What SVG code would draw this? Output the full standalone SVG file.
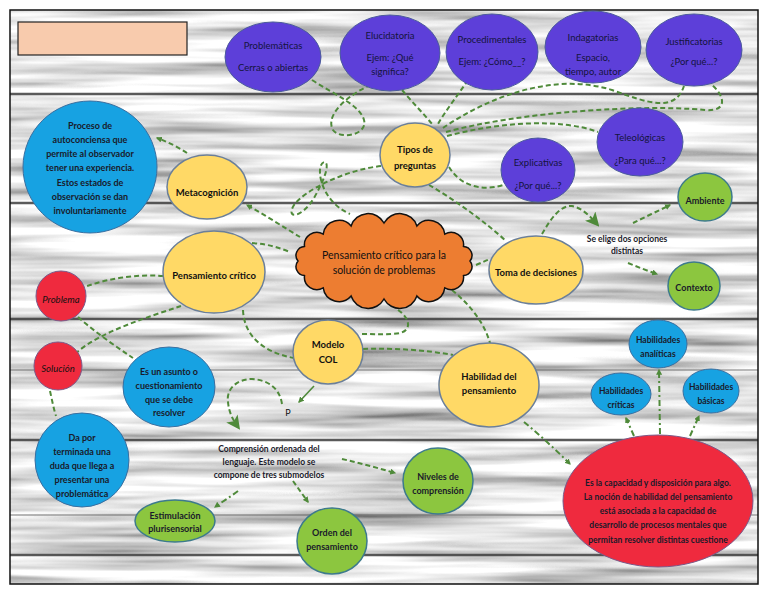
<svg xmlns="http://www.w3.org/2000/svg" width="768" height="594" viewBox="0 0 768 594">
<defs>
<filter id="wood" x="0" y="0" width="100%" height="100%">
<feTurbulence type="fractalNoise" baseFrequency="0.004 0.08" numOctaves="3" seed="7" result="n"/>
<feColorMatrix in="n" type="matrix" values="1.6 0 0 0 -0.02  1.6 0 0 0 -0.02  1.6 0 0 0 -0.02  0 0 0 0 1"/>
</filter>
<marker id="ah" viewBox="0 0 10 10" refX="8" refY="5" markerWidth="6" markerHeight="6" orient="auto-start-reverse" markerUnits="userSpaceOnUse">
<path d="M0,0 L10,5 L0,10 Z" fill="#4f8a3a"/>
</marker>
<marker id="big" viewBox="0 0 12 12" refX="9" refY="6" markerWidth="14" markerHeight="14" orient="auto" markerUnits="userSpaceOnUse">
<path d="M0,0 L12,6 L0,12 L3,6 Z" fill="#4f8a3a"/>
</marker>
<style>
.dash{fill:none;stroke:#4f8a3a;stroke-width:2;stroke-dasharray:5 3}
.dd{fill:none;stroke:#4f8a3a;stroke-width:2;stroke-dasharray:6 3 2 3}
.solid{fill:none;stroke:#4f8a3a;stroke-width:1.6}
.pur{fill:#5d3fd9;stroke:#4b5b9c;stroke-width:1}
.yel{fill:#ffd966;stroke:#6b7f99;stroke-width:1.5}
.blu{fill:#17a2e2;stroke:#3a6fa0;stroke-width:1}
.red{fill:#ef2a3e;stroke:#7a5a8a;stroke-width:1}
.grn{fill:#8cc63f;stroke:#3d7a8c;stroke-width:1.5}
text{font-family:Lato,"Open Sans","Liberation Sans",sans-serif;text-anchor:middle}
.tp{font-size:9.5px;fill:#14143c}
.tb{font-size:9.5px;font-weight:bold;fill:#111}
.tn{font-size:9px;font-weight:bold;fill:#1a1a2a}
.ts{font-size:8.5px;font-weight:bold;fill:#1a1a2a}
</style>
</defs>
<g id="background">
<rect x="10" y="10" width="748" height="574" filter="url(#wood)"/>
<g stroke="#3e3e3e" stroke-width="2.5" opacity="0.85">
<line x1="10" y1="94" x2="758" y2="94"/>
<line x1="10" y1="203" x2="758" y2="203"/>
<line x1="10" y1="319" x2="758" y2="319"/>
<line x1="10" y1="440" x2="758" y2="440"/>
<line x1="10" y1="555" x2="758" y2="555"/>
</g>
<g stroke="#666" stroke-width="1.5" opacity="0.6">
<line x1="10" y1="370" x2="758" y2="370"/>
<line x1="10" y1="515" x2="758" y2="515"/>
</g>
<rect x="10" y="10" width="748" height="574" fill="none" stroke="#111" stroke-width="1.5"/>
</g>
<rect id="title" x="18" y="22" width="169" height="33" fill="#f8cbad" stroke="#222" stroke-width="1.2"/>
<g id="connectors">
<path class="dash" d="M312,80 C335,95 360,105 364,120 C368,135 340,140 333,130 C326,118 340,100 368,86"/>
<path class="dash" d="M402,90 C412,102 424,114 432,124"/>
<path class="dash" d="M468,80 C458,95 446,110 438,124"/>
<path class="dash" d="M443,128 C490,96 555,72 612,90 C650,104 675,112 684,86"/>
<path class="dash" d="M446,132 C520,112 640,104 705,110 C728,112 725,96 712,85"/>
<path class="dash" d="M447,136 C500,122 560,118 598,132"/>
<path class="dash" d="M449,167 C460,185 480,192 503,185"/>
<path class="dash" d="M429,185 C455,200 485,222 505,240"/>
<path class="dash" d="M381,166 C345,170 305,190 294,205 C285,220 302,218 314,198 C324,180 330,165 325,162 C315,162 318,200 350,214"/>
<path class="dash" d="M300,237 C285,228 265,215 247,205" marker-end="url(#ah)"/>
<path class="dash" d="M187,153 C178,147 168,142 157,138" marker-end="url(#ah)"/>
<path class="dash" d="M252,243 C268,244 280,248 290,252"/>
<path class="dash" d="M163,276 C140,274 110,278 87,286"/>
<path class="dash" d="M181,306 C145,318 100,332 76,353"/>
<path class="dash" d="M78,317 C95,332 115,346 133,358"/>
<path class="dash" d="M50,391 C52,400 54,410 56,416"/>
<path class="dash" d="M243,310 C244,335 262,352 294,358"/>
<path class="dash" d="M398,310 C410,318 412,330 400,333 C390,335 375,334 361,334"/>
<path class="dash" d="M363,349 C395,348 425,350 453,355"/>
<path class="dash" d="M452,290 C470,305 484,322 490,343"/>
<path class="dash" d="M476,265 C481,263 485,261 490,259"/>
<path class="dash" d="M542,234 C550,220 560,205 572,206 C582,208 590,216 597,224" marker-end="url(#big)"/>
<path class="dash" d="M633,223 C645,217 658,211 670,205" marker-end="url(#ah)"/>
<path class="dash" d="M628,263 C638,267 648,271 657,274" marker-end="url(#ah)"/>
<path class="solid" d="M314,386 L299,402" marker-end="url(#ah)"/>
<path class="dash" d="M282,404 C280,390 270,380 252,379 C236,379 226,390 228,402 C229,413 233,420 238,427" marker-end="url(#big)"/>
<path class="dd" d="M238,491 C230,497 222,502 215,507" marker-end="url(#ah)"/>
<path class="dash" d="M293,481 C298,488 303,495 308,502" marker-end="url(#ah)"/>
<path class="dash" d="M342,459 C360,463 378,468 395,473" marker-end="url(#ah)"/>
<path class="dd" d="M524,422 C540,435 556,450 570,464" marker-end="url(#ah)"/>
<path class="dd" d="M660,434 L659,370" marker-end="url(#ah)"/>
<path class="dd" d="M634,436 L626,418" marker-end="url(#ah)"/>
<path class="dd" d="M690,436 L699,416" marker-end="url(#ah)"/>
</g>
<g id="n-problematicas"><ellipse class="pur" cx="273" cy="57" rx="48" ry="35"/><text class="tp" x="273" y="49">Problemáticas</text><text class="tp" x="273" y="71">Cerras o abiertas</text></g>
<g id="n-elucidatoria"><ellipse class="pur" cx="390" cy="53" rx="50" ry="38"/><text class="tp" x="390" y="39">Elucidatoria</text><text class="tp" x="390" y="61">Ejem: ¿Qué</text><text class="tp" x="390" y="75">significa?</text></g>
<g id="n-procedimentales"><ellipse class="pur" cx="492" cy="52" rx="46" ry="38"/><text class="tp" x="492" y="43">Procedimentales</text><text class="tp" x="492" y="65">Ejem: ¿Cómo__?</text></g>
<g id="n-indagatorias"><ellipse class="pur" cx="593" cy="47" rx="48" ry="36"/><text class="tp" x="593" y="41">Indagatorias</text><text class="tp" x="593" y="61">Espacio,</text><text class="tp" x="593" y="75">tiempo, autor</text></g>
<g id="n-justificatorias"><ellipse class="pur" cx="694" cy="50" rx="48" ry="36"/><text class="tp" x="694" y="45">Justificatorias</text><text class="tp" x="694" y="65">¿Por qué...?</text></g>
<g id="n-teleologicas"><ellipse class="pur" cx="640" cy="142" rx="43" ry="34"/><text class="tp" x="640" y="141">Teleológicas</text><text class="tp" x="640" y="164">¿Para qué...?</text></g>
<g id="n-explicativas"><ellipse class="pur" cx="538" cy="170" rx="37" ry="32"/><text class="tp" x="538" y="166">Explicativas</text><text class="tp" x="538" y="189">¿Por qué...?</text></g>
<g id="n-tipos"><ellipse class="yel" cx="415" cy="155" rx="35" ry="32"/><text class="tb" x="415" y="153">Tipos de</text><text class="tb" x="415" y="169">preguntas</text></g>
<g id="n-central"><path d="M470,261 A9,9 0 0 1 463.5,275.6 A12.5,12.5 0 0 1 444.8,287.9 A16,16 0 0 1 416.9,296.1 A18,18 0 0 1 384,299 A18,18 0 0 1 351.1,296.1 A16,16 0 0 1 323.2,287.9 A12.5,12.5 0 0 1 304.5,275.6 A9,9 0 0 1 298,261 A9,9 0 0 1 304.5,246.4 A12.5,12.5 0 0 1 323.2,234.1 A16,16 0 0 1 351.1,225.9 A18,18 0 0 1 384,223 A18,18 0 0 1 416.9,225.9 A16,16 0 0 1 444.8,234.1 A12.5,12.5 0 0 1 463.5,246.4 A9,9 0 0 1 470,261 Z" fill="#ed7d31" stroke="#111" stroke-width="1.5"/><text x="384" y="259" style="font-size:10.5px;fill:#111">Pensamiento crítico para la</text><text x="384" y="274" style="font-size:10.5px;fill:#111">solución de problemas</text></g>
<g id="n-metacognicion"><ellipse class="yel" cx="207" cy="187" rx="40" ry="32"/><text class="tb" x="207" y="196">Metacognición</text></g>
<g id="n-proceso"><ellipse class="blu" cx="90" cy="167" rx="67" ry="66"/><text class="tn" x="90" y="129">Proceso de</text><text class="tn" x="90" y="143">autoconciensa que</text><text class="tn" x="90" y="157">permite al observador</text><text class="tn" x="90" y="171">tener una experiencia.</text><text class="tn" x="90" y="186">Estos estados de</text><text class="tn" x="90" y="200">observación se dan</text><text class="tn" x="90" y="214">involuntariamente</text></g>
<g id="n-pensamiento"><ellipse class="yel" cx="214" cy="272" rx="51" ry="41"/><text class="tb" x="214" y="279">Pensamiento crítico</text></g>
<g id="n-problema"><ellipse class="red" cx="61" cy="296" rx="25" ry="25"/><text x="61" y="303" style="font-size:9.5px;font-style:italic;fill:#111">Problema</text></g>
<g id="n-solucion"><ellipse class="red" cx="58" cy="366" rx="24" ry="24"/><text x="58" y="372" style="font-size:9.5px;font-style:italic;fill:#111">Solución</text></g>
<g id="n-asunto"><ellipse class="blu" cx="169" cy="387" rx="46" ry="40"/><text class="tn" x="169" y="375">Es un asunto o</text><text class="tn" x="169" y="389">cuestionamiento</text><text class="tn" x="169" y="403">que se debe</text><text class="tn" x="169" y="416">resolver</text></g>
<g id="n-dapor"><ellipse class="blu" cx="82" cy="460" rx="47" ry="47"/><text class="tn" x="82" y="441">Da por</text><text class="tn" x="82" y="455">terminada una</text><text class="tn" x="82" y="469">duda que llega a</text><text class="tn" x="82" y="483">presentar una</text><text class="tn" x="82" y="497">problemática</text></g>
<g id="n-modelo"><ellipse class="yel" cx="328" cy="352" rx="35" ry="32"/><text class="tb" x="328" y="348">Modelo</text><text class="tb" x="328" y="363">COL</text></g>
<g id="n-p"><text x="288" y="416" style="font-size:9px;fill:#111">P</text></g>
<g id="n-habilidad"><ellipse class="yel" cx="489" cy="385" rx="50" ry="42"/><text class="tb" x="489" y="380">Habilidad del</text><text class="tb" x="489" y="394">pensamiento</text></g>
<g id="n-toma"><ellipse class="yel" cx="536" cy="270" rx="47" ry="34"/><text class="tb" x="536" y="276">Toma de decisiones</text></g>
<g id="n-seelige"><text class="ts" x="627" y="242">Se elige dos opciones</text><text class="ts" x="627" y="254">distintas</text></g>
<g id="n-ambiente"><ellipse class="grn" cx="705" cy="197" rx="27" ry="24"/><text class="tn" x="705" y="204">Ambiente</text></g>
<g id="n-contexto"><ellipse class="grn" cx="694" cy="286" rx="26" ry="24"/><text class="tn" x="694" y="291">Contexto</text></g>
<g id="n-analiticas"><ellipse class="blu" cx="658" cy="344" rx="29" ry="24"/><text class="ts" x="658" y="343">Habilidades</text><text class="ts" x="658" y="357">analíticas</text></g>
<g id="n-criticas"><ellipse class="blu" cx="621" cy="394" rx="30" ry="21"/><text class="ts" x="621" y="394">Habilidades</text><text class="ts" x="621" y="408">críticas</text></g>
<g id="n-basicas"><ellipse class="blu" cx="711" cy="391" rx="28" ry="22"/><text class="ts" x="711" y="390">Habilidades</text><text class="ts" x="711" y="404">básicas</text></g>
<g id="n-capacidad"><ellipse class="red" cx="658" cy="501" rx="95" ry="66"/><text class="ts" x="658" y="486">Es la capacidad y disposición para algo.</text><text class="ts" x="658" y="500">La noción de habilidad del pensamiento</text><text class="ts" x="658" y="514">está asociada a la capacidad de</text><text class="ts" x="658" y="528">desarrollo de procesos mentales que</text><text class="ts" x="658" y="543">permitan resolver distintas cuestione</text></g>
<g id="n-comprension"><text class="ts" x="269" y="452">Comprensión ordenada del</text><text class="ts" x="269" y="465">lenguaje. Este modelo se</text><text class="ts" x="269" y="478">compone de tres submodelos</text></g>
<g id="n-niveles"><ellipse class="grn" cx="438" cy="481" rx="35" ry="33"/><text class="tn" x="438" y="480">Niveles de</text><text class="tn" x="438" y="494">comprensión</text></g>
<g id="n-orden"><ellipse class="grn" cx="332" cy="541" rx="35" ry="33"/><text class="tn" x="332" y="536">Orden del</text><text class="tn" x="332" y="550">pensamiento</text></g>
<g id="n-estimulacion"><ellipse class="grn" cx="175" cy="521" rx="40" ry="21"/><text class="tn" x="175" y="519">Estimulación</text><text class="tn" x="175" y="532">plurisensorial</text></g>
</svg>
